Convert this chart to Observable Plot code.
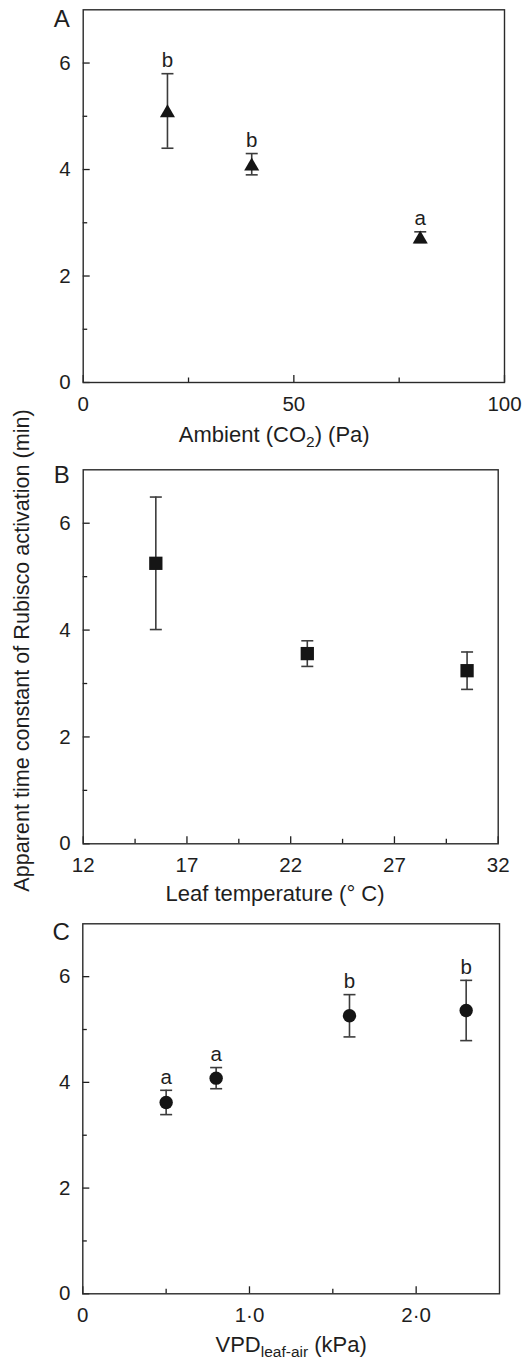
<!DOCTYPE html>
<html><head><meta charset="utf-8">
<script src="https://cdn.jsdelivr.net/npm/d3@7"></script>
<script src="https://cdn.jsdelivr.net/npm/@observablehq/plot@0.6"></script>
<style>
body{margin:0;background:#fff;}
#wrap{position:relative;width:527px;height:1359px;background:#fff;}
#wrap > div{position:absolute;left:0;width:527px;}
</style></head><body><div id="wrap"></div>
<script>
// ---------------- data ----------------
const co2Pa   = [20, 40, 80];
const tauCO2  = [5.1, 4.1, 2.73];
const seCO2   = [0.7, 0.2, 0.1];
const sigCO2  = ["b", "b", "a"];

const leafTemp = [15.5, 22.8, 30.5];
const tauTemp  = [5.25, 3.56, 3.24];
const seTemp   = [1.24, 0.24, 0.35];

const vpd    = [0.5, 0.8, 1.6, 2.3];
const tauVPD = [3.62, 4.08, 5.26, 5.36];
const seVPD  = [0.23, 0.2, 0.4, 0.57];
const sigVPD = ["a", "a", "b", "b"];

const yMajor = [0, 2, 4, 6];
const yMinor = [1, 3, 5];
const xMajorA = [0, 50, 100], xMinorA = [25, 75];
const xMajorB = [12, 17, 22, 27, 32], xMinorB = [14.5, 19.5, 24.5, 29.5];
const xMajorC = [0, 1, 2], xMinorC = [0.5, 1.5];
const xTickLabelsC = ["0", "1·0", "2·0"];

const yLabel = "Apparent time constant of Rubisco activation (min)";
const xLabelA = [["Ambient (CO", false], ["2", true], [") (Pa)", false]];
const xLabelB = [["Leaf temperature (° C)", false]];
const xLabelC = [["VPD", false], ["leaf-air", true], [" (kPa)", false]];

// ---------------- drawing ----------------
const INK = "#1e1e1e";
const BAR = "#3c3c3c";
const FONT = "'Liberation Sans', Arial, Helvetica, sans-serif";
const capSymbol = {draw(ctx, size) { const w = Math.sqrt(size / Math.PI); ctx.moveTo(-w, 0); ctx.lineTo(w, 0); }};

function panel(o) {
  const rows = o.x.map((x, i) => ({x, y: o.y[i], lo: o.y[i] - o.se[i], hi: o.y[i] + o.se[i], sig: o.sig ? o.sig[i] : ""}));
  const labelText = o.xLabel.map(p => p[0]).join("");
  const marks = [
    Plot.axisY({ticks: yMajor, tickSize: 0, tickPadding: 12.5, fontSize: 20.5, tickFormat: d => String(d), label: null}),
    Plot.axisY({ticks: yMajor, tickSize: -7, tickFormat: () => "", strokeWidth: 1.3, label: null}),
    Plot.axisY({ticks: yMinor, tickSize: -4.5, tickFormat: () => "", strokeWidth: 1.3, label: null}),
    Plot.axisX({ticks: o.xMajor, tickSize: 0, tickPadding: 14, fontSize: 20.5, tickFormat: o.xFormat || (d => String(d)), label: null}),
    Plot.axisX({ticks: o.xMajor, tickSize: -7, tickFormat: () => "", strokeWidth: 1.3, label: null}),
    Plot.axisX({ticks: o.xMinor, tickSize: -4.5, tickFormat: () => "", strokeWidth: 1.3, label: null}),
    Plot.frame({stroke: "#2a2a2a", strokeWidth: 1.4}),
    Plot.ruleX(rows, {x: "x", y1: "lo", y2: "hi", stroke: BAR, strokeWidth: 1.6}),
    Plot.dot(rows, {x: "x", y: "hi", symbol: capSymbol, r: 6, stroke: BAR, strokeWidth: 1.6, fill: "none"}),
    Plot.dot(rows, {x: "x", y: "lo", symbol: capSymbol, r: 6, stroke: BAR, strokeWidth: 1.6, fill: "none"}),
    Plot.dot(rows, {x: "x", y: "y", symbol: o.symbol, r: o.r, fill: "#151515", stroke: "none", dy: o.symDy || 0}),
    Plot.text(rows, {x: "x", y: "hi", text: "sig", lineAnchor: "bottom", dy: -6.5, fontSize: 20.5, fill: INK}),
    Plot.text([o.letter], {frameAnchor: "top-left", textAnchor: "start", lineAnchor: "bottom", dx: o.letterDx, dy: o.letterDy, fontSize: 24, fill: INK}),
    Plot.text([labelText], {frameAnchor: "bottom", lineAnchor: "bottom", dx: o.labelDx, dy: o.labelDy, fontSize: 22, fill: INK})
  ];
  if (o.yLabel) marks.push(Plot.text([o.yLabel], {frameAnchor: "left", rotate: -90, textAnchor: "middle", lineAnchor: "bottom", dx: -54.4, dy: -6.3, fontSize: 21.6, fill: INK}));
  const svg = Plot.plot({
    width: 527, height: o.height,
    marginLeft: o.ml, marginRight: o.mr, marginTop: o.mt, marginBottom: o.mb,
    x: {domain: o.xDomain, label: null},
    y: {domain: [0, 7], label: null},
    style: {fontFamily: FONT, background: "transparent", overflow: "visible", color: INK},
    marks
  });
  // subscript handling for axis label
  d3.select(svg).selectAll("text").filter(function () { return this.textContent === labelText && o.xLabel.length > 1; })
    .each(function () {
      const t = d3.select(this);
      t.text(null);
      let prevSub = false;
      o.xLabel.forEach(([s, sub]) => {
        const ts = t.append("tspan").text(s);
        if (sub) ts.attr("font-size", 15.5).attr("dy", 5);
        else if (prevSub) ts.attr("dy", -5);
        prevSub = sub;
      });
    });
  const div = document.createElement("div");
  div.style.top = o.top + "px";
  div.style.height = o.height + "px";
  div.appendChild(svg);
  document.getElementById("wrap").appendChild(div);
}

panel({top: 0, height: 450, ml: 82.7, mr: 23, mt: 9.3, mb: 68,
  x: co2Pa, y: tauCO2, se: seCO2, sig: sigCO2, xDomain: [0, 100], xMajor: xMajorA, xMinor: xMinorA,
  symbol: "triangle", r: 5.6, symDy: 2, letter: "A", letterDx: -29.4, letterDy: 17.4,
  xLabel: xLabelA, labelDx: -19.6, labelDy: 59.7});

panel({top: 450, height: 455, ml: 82.7, mr: 29.3, mt: 19.3, mb: 61.7,
  x: leafTemp, y: tauTemp, se: seTemp, sig: null, xDomain: [12, 32], xMajor: xMajorB, xMinor: xMinorB,
  symbol: "square", r: 7.5, letter: "B", letterDx: -29.4, letterDy: 13.4,
  xLabel: xLabelB, labelDx: -15.7, labelDy: 56.7, yLabel});

panel({top: 905, height: 454, ml: 82.3, mr: 28, mt: 18.3, mb: 65.7,
  x: vpd, y: tauVPD, se: seVPD, sig: sigVPD, xDomain: [0, 2.5], xMajor: xMajorC, xMinor: xMinorC,
  xFormat: d => xTickLabelsC[xMajorC.indexOf(d)],
  symbol: "circle", r: 6.7, letter: "C", letterDx: -30.3, letterDy: 16,
  xLabel: xLabelC, labelDx: 0, labelDy: 58.4});
</script>
</body></html>
